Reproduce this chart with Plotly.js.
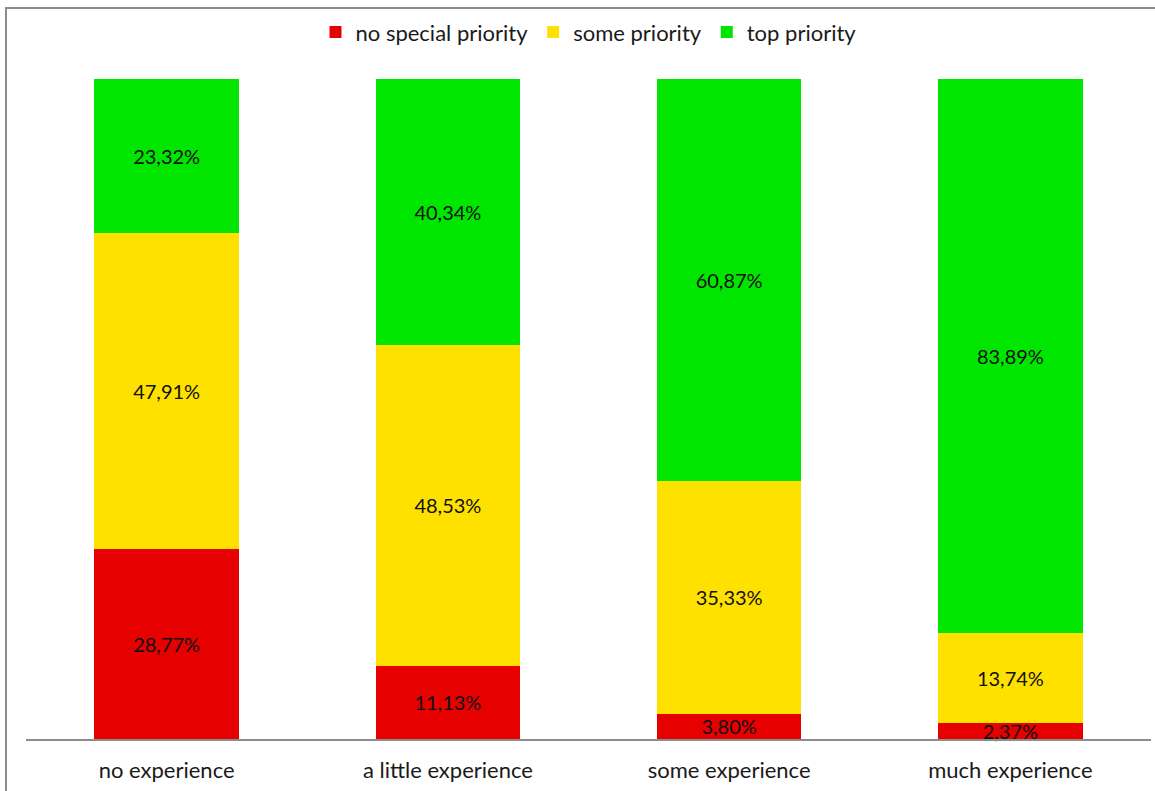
<!DOCTYPE html>
<html>
<head>
<meta charset="utf-8">
<script src="https://cdn.plot.ly/plotly-3.0.1.min.js"></script>
<style>
html,body{margin:0;padding:0;background:#fff;}
#wrap{position:relative;width:1155px;height:791px;overflow:hidden;}
#frame{position:absolute;left:5px;top:7px;width:1200px;height:900px;border-left:2px solid #8c8c8c;border-top:2px solid #8c8c8c;pointer-events:none;}
#chart{position:absolute;left:0;top:0;width:1155px;height:791px;}
</style>
</head>
<body>
<div id="wrap">
<div id="chart"></div>
<div id="frame"></div>
</div>
<script>
const categories = ["no experience", "a little experience", "some experience", "much experience"];
const seriesNames = ["no special priority", "some priority", "top priority"];
const noSpecial = [28.77, 11.13, 3.80, 2.37];
const somePriority = [47.91, 48.53, 35.33, 13.74];
const topPriority = [23.32, 40.34, 60.87, 83.89];
const colors = ["#E60000", "#FFE100", "#00E600"];

const fmt = v => v.toFixed(2).replace('.', ',') + '%';
const series = [noSpecial, somePriority, topPriority];

const traces = series.map((vals, i) => ({
  type: 'bar',
  name: seriesNames[i],
  x: categories,
  y: vals,
  text: vals.map(fmt),
  textposition: 'inside',
  insidetextanchor: 'middle',
  textangle: 0,
  constraintext: 'none',
  cliponaxis: false,
  textfont: {family: 'Lato, "Open Sans", sans-serif', size: 20, color: '#111111'},
  marker: {color: colors[i], line: {width: 0}},
  hoverinfo: 'skip'
}));

const layout = {
  width: 1155,
  height: 791,
  barmode: 'stack',
  bargap: 0.487,
  margin: {l: 26, r: 4, t: 79, b: 52},
  paper_bgcolor: '#ffffff',
  plot_bgcolor: '#ffffff',
  font: {family: 'Lato, "Open Sans", sans-serif', color: '#1a1a1a'},
  showlegend: true,
  legend: {
    orientation: 'h',
    x: 0.50, xanchor: 'center',
    y: 1.071, yanchor: 'middle',
    yref: 'paper',
    font: {size: 22, color: '#1a1a1a'},
    traceorder: 'normal',
    itemclick: false
  },
  xaxis: {
    type: 'category',
    showline: true,
    linecolor: '#8c8c8c',
    linewidth: 1.5,
    showgrid: false,
    zeroline: false,
    ticks: '',
    ticklabelstandoff: 11,
    tickfont: {size: 22, color: '#1a1a1a'}
  },
  yaxis: {
    range: [0, 100],
    visible: false,
    showgrid: false,
    zeroline: false
  }
};

Plotly.newPlot('chart', traces, layout, {displayModeBar: false, staticPlot: true});
</script>
</body>
</html>
